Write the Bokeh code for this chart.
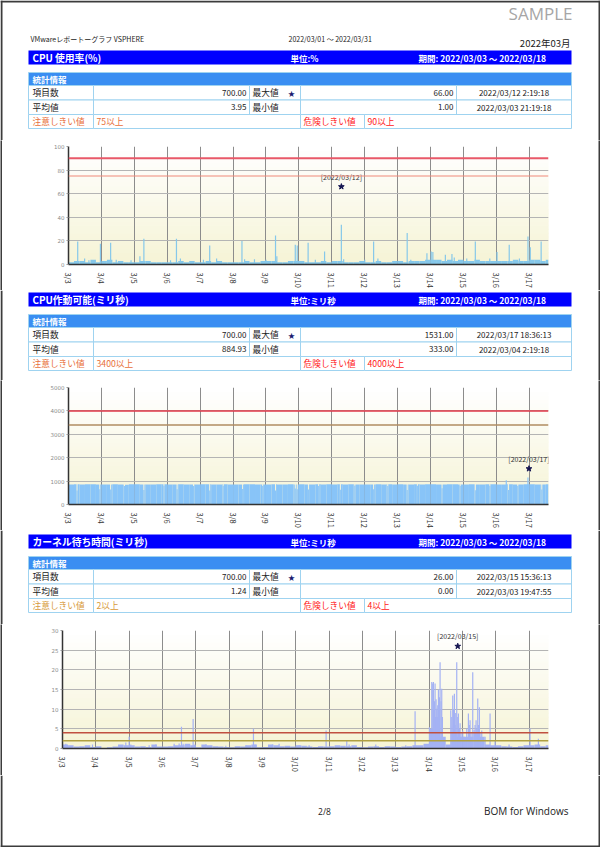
import math
import numpy as np
from bokeh.plotting import figure
from bokeh.layouts import column, row
from bokeh.models import Range1d, FixedTicker, Span
from bokeh.core.properties import value
from bokeh.embed import file_html
from bokeh.resources import INLINE

JP = "Noto Sans CJK JP"

# ---------------- data ----------------
watermark = "SAMPLE"
report_title = "VMwareレポートーグラフ  VSPHERE"
report_range = "2022/03/01  ～  2022/03/31"
report_month = "2022年03月"
period_text = "期間: 2022/03/03 ～ 2022/03/18"
page_no = "2/8"
product = "BOM for Windows"

day_labels = ["3/3", "3/4", "3/5", "3/6", "3/7", "3/8", "3/9", "3/10",
              "3/11", "3/12", "3/13", "3/14", "3/15", "3/16", "3/17"]
n_samples = 700
sample_hours = 0.5
block_hours = 4

section_titles = ["CPU 使用率(%)", "CPU作動可能(ミリ秒)", "カーネル待ち時間(ミリ秒)"]
section_units = ["単位:%", "単位:ミリ秒", "単位:ミリ秒"]
item_counts = [700.00, 700.00, 700.00]
max_values = [66.00, 1531.00, 26.00]
max_times = ["2022/03/12 2:19:18", "2022/03/17 18:36:13", "2022/03/15 15:36:13"]
max_dates = ["[2022/03/12]", "[2022/03/17]", "[2022/03/15]"]
avg_values = [3.95, 884.93, 1.24]
min_values = [1.00, 333.00, 0.00]
min_times = ["2022/03/03 21:19:18", "2022/03/04 2:19:18", "2022/03/03 19:47:55"]
warn_levels = [75, 3400, 2]
danger_levels = [90, 4000, 4]
max_marker_day = [8.29, 13.99, 11.86]
y_max = [100, 5000, 30]
y_step = [20, 1000, 5]

# CPU usage (%) : 4-hour baseline + spikes
cpu_base = [2, 3, 3, 2, 4, 2,  3, 4, 2, 3, 2, 2,  2, 3, 3, 2, 2, 2,
            2, 2, 3, 2, 3, 2,  2, 3, 2, 3, 2, 2,  2, 2, 3, 2, 2, 3,
            3, 3, 2, 2, 3, 3,  3, 2, 2, 2, 3, 2,  3, 3, 2, 2, 2, 3,
            2, 2, 3, 2, 2, 3,  3, 2, 3, 3, 3, 4,  4, 4, 3, 4, 3, 4,
            3, 3, 4, 3, 3, 3,  3, 3, 3, 4, 3, 3,  4, 4, 3, 4]
cpu_spike_day = [0.28, 0.49, 0.62, 0.97, 1.28, 1.45, 1.9, 2.17, 2.29, 2.45,
                 3.1, 3.28, 3.4, 4.1, 4.29, 4.5, 5.27, 5.35, 5.65, 6.0,
                 6.29, 6.33, 6.89, 6.95, 7.28, 7.5, 7.78, 8.29, 8.36, 9.0,
                 9.27, 9.4, 10.29, 10.4, 10.89, 11.02, 11.07, 11.45, 11.65, 11.72,
                 12.1, 12.36, 12.8, 13.02, 13.39, 13.7, 13.96, 14.03, 14.36]
cpu_spike_val = [19.5, 5, 3.5, 17.5, 18.4, 4, 3.5, 7, 21.8, 3,
                 3.5, 21.8, 5, 4, 16, 5, 20, 4.5, 4.5, 4,
                 24.5, 7, 16.7, 16, 18.4, 4, 11, 33.6, 4.5, 4,
                 19.5, 5, 26.8, 4, 9.6, 11, 10.5, 8.2, 9, 6,
                 5, 19.5, 5, 10.5, 16.7, 5, 23.7, 14.7, 19.5]

# CPU ready (ms) : 4-hour baseline + dips + peaks
rdy_base = [860, 870, 850, 865, 870, 855,  860, 850, 870, 860, 845, 865,
            870, 855, 860, 850, 865, 870,  850, 860, 870, 855, 860, 850,
            865, 870, 850, 860, 870, 855,  860, 850, 865, 870, 850, 860,
            855, 870, 860, 850, 865, 860,  870, 850, 860, 865, 855, 870,
            860, 865, 850, 870, 860, 855,  850, 860, 870, 855, 865, 860,
            865, 855, 860, 870, 850, 865,  870, 860, 855, 865, 870, 860,
            855, 870, 860, 850, 865, 870,  860, 855, 870, 860, 850, 865,
            870, 860, 855, 865]
rdy_dip_day = [0.26, 0.95, 1.28, 1.7, 2.29, 2.9, 3.3, 3.8, 4.29, 4.7,
               5.29, 5.9, 6.29, 6.89, 6.95, 7.29, 7.6, 8.26, 8.7, 9.27,
               9.7, 10.29, 10.6, 11.35, 11.9, 12.36, 12.8, 13.37, 13.65, 14.38]
rdy_dip_val = [600, 650, 640, 790, 620, 800, 650, 790, 600, 800,
               660, 790, 600, 680, 650, 640, 790, 630, 800, 650,
               790, 620, 800, 690, 790, 610, 800, 620, 790, 640]
rdy_peak_day = [13.3, 13.96]
rdy_peak_val = [1040, 1150]

# Kernel latency (ms) : 4-hour baseline + spikes
krn_base = [1, 0.8, 0.5, 0.6, 0.8, 0.4,  0.6, 0, 0.3, 0.5, 1, 0.8,
            0.8, 0.5, 0.6, 0.4, 1, 0.5,  0.5, 0.6, 0.8, 0.8, 1.2, 0.8,
            0.3, 1, 0.8, 0.6, 0.5, 0.4,  0.3, 0.6, 0.5, 0.8, 1, 0.3,
            0.4, 1, 0.8, 0.6, 0.7, 0.5,  0.8, 0.7, 0.5, 0.4, 0.6, 0.5,
            0.6, 0.8, 0.7, 0.6, 0.8, 0.4,  0.3, 0.5, 0.6, 0.4, 0.6, 0.5,
            0.4, 0.5, 0.6, 0.8, 0.8, 1.2,  5, 8, 3, 1, 4, 3,
            3, 3, 4, 3, 1, 0.8,  0.8, 0.6, 0.5, 0.4, 0.6, 0.8,
            0.8, 1, 0.6, 0.8]
krn_spike_day = [0.1, 0.9, 1.9, 2.0, 2.05, 2.6, 2.8, 3.35, 3.5, 3.57, 3.62, 3.92, 3.97,
                 4.3, 4.9, 5.5, 5.73, 5.78, 6.3, 6.5, 7.1, 7.4, 7.91, 8.53, 8.6, 9.4,
                 10.3, 10.58, 11.01, 11.05, 11.08, 11.11, 11.13, 11.16, 11.18, 11.21,
                 11.23, 11.26, 11.28, 11.31, 11.33, 11.36, 11.38, 11.40, 11.43, 11.65,
                 11.68, 11.71, 11.73, 11.76, 11.78, 11.80, 11.83, 11.86, 11.88, 11.91,
                 11.93, 11.96, 12.01, 12.05, 12.08, 12.13, 12.18, 12.21, 12.23, 12.26,
                 12.31, 12.35, 12.38, 12.41, 12.43, 12.46, 12.48, 12.51, 12.53, 12.58,
                 12.68, 12.83, 12.98, 13.4, 14.03, 14.28]
krn_spike_val = [1.2, 1, 1.5, 3.0, 1, 0.8, 1, 1.2, 1.3, 5.5, 1.2, 7.5, 1,
                 1, 0.7, 0.8, 5, 1, 1, 1.2, 0.8, 0.8, 4.6, 2, 1, 1,
                 0.8, 9.5, 5.4, 3, 16.9, 16.5, 16.9, 12, 16.5, 12.5,
                 10.1, 11, 15, 13, 21.9, 12, 15.2, 8, 2.9, 9.7,
                 8, 13.5, 10, 13.9, 6, 9, 21.9, 8, 8.9, 5,
                 6.4, 4, 4.6, 3, 2.7, 5, 8.9, 6, 7.2, 4,
                 19.4, 4.7, 6, 7.2, 5, 12.7, 6, 10.5, 4, 4.6,
                 3, 8.9, 2, 1, 5, 2.5]

# ---------------- styles ----------------
warn_text_colors = ["#e8703a", "#e8703a", "#d89a3a"]
danger_text_color = "#ff2020"
warn_line = [("#f08878", 1), ("#b08c60", 1.5), ("#b0a040", 1.5)]
danger_line = [("#e85868", 2), ("#e03848", 1.5), ("#c05040", 1.5)]
bar_colors = ["#86c8ea", "#88c4f8", "#a4b2f4"]
FRAME = "#3c3c3c"
PAGE_W = 600
EDGE = 2

x_end = n_samples * sample_hours / 24.0
block_d = block_hours / 24.0
sample_d = sample_hours / 24.0


def no_align(p):
    if "frame_align" in p.properties():
        p.frame_align = False


def band(y_top, y_bot):
    p = figure(width=PAGE_W, height=int(round(y_bot - y_top)),
               x_range=Range1d(0, PAGE_W), y_range=Range1d(y_bot, y_top),
               output_backend="svg", toolbar_location=None,
               x_axis_location=None, y_axis_location=None,
               min_border=0, min_border_left=0, min_border_right=0,
               min_border_top=0, min_border_bottom=0)
    p.grid.visible = False
    p.outline_line_color = None
    p.background_fill_color = "white"
    p.border_fill_color = "white"
    p.quad(left=[0, PAGE_W - EDGE], right=[EDGE, PAGE_W], top=y_top,
           bottom=y_bot, fill_color=FRAME, line_color=None)
    no_align(p)
    return p


def strip(height):
    p = figure(width=EDGE, height=height, output_backend="svg",
               toolbar_location=None, x_axis_location=None,
               y_axis_location=None, min_border=0, min_border_left=0,
               min_border_right=0, min_border_top=0, min_border_bottom=0,
               x_range=Range1d(0, 1), y_range=Range1d(0, 1))
    p.grid.visible = False
    p.outline_line_color = None
    p.background_fill_color = FRAME
    p.border_fill_color = FRAME
    no_align(p)
    return p


def txt(p, x, y, t, size, color="#222222", align="left", bold=False, font=JP):
    p.text(x=[x], y=[y], text=[t], text_font=value(font),
           text_font_size=value(f"{size}px"), text_color=color,
           text_align=align, text_baseline="middle",
           text_font_style="bold" if bold else "normal")


def section(p, o, k):
    p.quad(left=[28], right=[571], top=[50 + o], bottom=[64 + o],
           fill_color="#0000ff", line_color=None)
    txt(p, 32, 57 + o, section_titles[k], 9.8, "white", bold=True)
    txt(p, 290, 57 + o, section_units[k], 8.5, "white", bold=True)
    txt(p, 418, 57 + o, period_text, 8.5, "white", bold=True)
    p.quad(left=[28], right=[571], top=[72 + o], bottom=[85 + o],
           fill_color="#3a8ef2", line_color="#9fd3f0")
    txt(p, 32, 78.5 + o, "統計情報", 8.5, "white", bold=True)
    rows = [85, 99.5, 114, 128]
    cols12 = [28, 93, 249, 300, 456, 571]
    cols3 = [28, 93, 300, 364, 571]
    L, R, T, B = [], [], [], []
    for r in range(2):
        for c in range(len(cols12) - 1):
            L.append(cols12[c]); R.append(cols12[c + 1])
            T.append(rows[r] + o); B.append(rows[r + 1] + o)
    for c in range(len(cols3) - 1):
        L.append(cols3[c]); R.append(cols3[c + 1])
        T.append(rows[2] + o); B.append(rows[3] + o)
    p.quad(left=L, right=R, top=T, bottom=B, fill_color="white",
           line_color="#9fd3f0", line_width=1)
    y1 = (rows[0] + rows[1]) / 2 + o
    y2 = (rows[1] + rows[2]) / 2 + o
    y3 = (rows[2] + rows[3]) / 2 + o
    J = 8.7
    txt(p, 32, y1, "項目数", J)
    txt(p, 246, y1, f"{item_counts[k]:.2f}", 8, align="right")
    txt(p, 252, y1, "最大値", J)
    txt(p, 291, y1, "★", 7, "#1a1a70", align="center")
    txt(p, 453, y1, f"{max_values[k]:.2f}", 8, align="right")
    txt(p, 513.5, y1, max_times[k], 8, align="center")
    txt(p, 32, y2, "平均値", J)
    txt(p, 246, y2, f"{avg_values[k]:.2f}", 8, align="right")
    txt(p, 252, y2, "最小値", J)
    txt(p, 453, y2, f"{min_values[k]:.2f}", 8, align="right")
    txt(p, 513.5, y2, min_times[k], 8, align="center")
    txt(p, 32, y3, "注意しきい値", J, warn_text_colors[k])
    txt(p, 96, y3, f"{warn_levels[k]}以上", J, warn_text_colors[k])
    txt(p, 303, y3, "危険しきい値", J, danger_text_color)
    txt(p, 367, y3, f"{danger_levels[k]}以上", J, danger_text_color)


def chart(k, height, top_b, bot_b, left_b):
    ymax = y_max[k]
    p = figure(width=PAGE_W - 2 * EDGE, height=height,
               x_range=Range1d(0, x_end), y_range=Range1d(0, ymax),
               output_backend="svg", toolbar_location=None,
               min_border_left=left_b - EDGE, min_border_right=52 - EDGE,
               min_border_top=top_b, min_border_bottom=bot_b)
    no_align(p)
    p.outline_line_color = None
    p.background_fill_color = "white"
    p.border_fill_color = "white"
    nb = 30
    edges = np.linspace(0, ymax, nb + 1)
    cols = []
    for i in range(nb):
        f = i / (nb - 1)
        r = int(246 + (255 - 246) * f)
        g = int(244 + (255 - 244) * f)
        b = int(214 + (255 - 214) * f)
        cols.append(f"#{r:02x}{g:02x}{b:02x}")
    p.quad(left=0, right=x_end, bottom=edges[:-1], top=edges[1:],
           fill_color=cols, line_color=cols, line_width=1, level="image")
    ticks = list(range(len(day_labels)))
    p.xaxis.ticker = FixedTicker(ticks=ticks)
    p.xaxis.major_label_overrides = {i: lab for i, lab in enumerate(day_labels)}
    p.xaxis.major_label_orientation = -math.pi / 2
    p.xaxis.major_tick_line_color = None
    p.xaxis.minor_tick_line_color = None
    p.xaxis.axis_line_color = "#333333"
    p.xaxis.axis_line_width = 1.5
    p.xaxis.major_label_text_font = JP
    p.xaxis.major_label_text_font_size = "7.5px"
    p.xaxis.major_label_text_color = "#333333"
    p.xaxis.major_label_standoff = 2
    p.yaxis.ticker = FixedTicker(ticks=list(range(0, ymax + 1, y_step[k])))
    p.yaxis.major_label_text_font = "DejaVu Sans"
    p.yaxis.major_label_text_font_size = "5.5px"
    p.yaxis.major_label_text_color = "#8a8a8a"
    p.yaxis.major_label_standoff = 2
    p.yaxis.major_tick_out = 2
    p.yaxis.major_tick_in = 0
    p.yaxis.major_tick_line_color = "#999999"
    p.yaxis.minor_tick_line_color = None
    p.yaxis.axis_line_color = "#333333"
    p.yaxis.axis_line_width = 1.5
    p.xgrid.ticker = FixedTicker(ticks=ticks)
    p.xgrid.grid_line_color = "#8c8c8c"
    p.ygrid.grid_line_color = "#b4b4b4"
    wc, ww = warn_line[k]
    dc, dw = danger_line[k]
    p.add_layout(Span(location=warn_levels[k], dimension="width",
                      line_color=wc, line_width=ww))
    p.add_layout(Span(location=danger_levels[k], dimension="width",
                      line_color=dc, line_width=dw))
    return p


def framed(p, height):
    r = row(strip(height), p, strip(height), spacing=0)
    return r


def base_quads(p, base, color, cut_days=(), cut_w=0.0):
    L, R, T = [], [], []
    for i, v in enumerate(base):
        l = i * block_d
        r = min((i + 1) * block_d, x_end)
        cur = l
        for d in sorted(d for d in cut_days if l <= d < r):
            L.append(cur); R.append(d - cut_w / 2); T.append(v)
            cur = d + cut_w / 2
        L.append(cur); R.append(r); T.append(v)
    p.quad(left=L, right=R, bottom=0, top=T, fill_color=color, line_color=None)


def marker(p, k):
    p.scatter(x=[max_marker_day[k]], y=[max_values[k]], marker="star",
              size=6, color="#141450")
    p.text(x=[max_marker_day[k]], y=[max_values[k]], text=[max_dates[k]],
           text_font=value(JP), text_font_size=value("7px"),
           text_color="#333333", text_align="center", text_baseline="middle",
           y_offset=-10)


# ---------------- page ----------------
bandA = band(0, 140)
bandA.quad(left=[0], right=[PAGE_W], top=[0], bottom=[EDGE],
           fill_color=FRAME, line_color=None)
txt(bandA, 572, 13, watermark, 17, "#a6a6a6", align="right", font="Open Sans")
txt(bandA, 30, 38, report_title, 7, "#222222")
txt(bandA, 288, 38, report_range, 7, "#222222")
txt(bandA, 570, 42, report_month, 9.5, "#222222", align="right")
section(bandA, 0, 0)

c1 = chart(0, 150, 6, 26, 68)
base_quads(c1, cpu_base, bar_colors[0])
c1.segment(x0=cpu_spike_day, y0=0, x1=cpu_spike_day, y1=cpu_spike_val,
           line_color=bar_colors[0], line_width=1.2)
marker(c1, 0)

bandB = band(290, 380)
section(bandB, 242, 1)

c2 = chart(1, 150, 7, 25, 68)
dip_w = sample_d * 1.5
base_quads(c2, rdy_base, bar_colors[1], rdy_dip_day, dip_w)
c2.quad(left=[d - dip_w / 2 for d in rdy_dip_day],
        right=[d + dip_w / 2 for d in rdy_dip_day],
        bottom=0, top=rdy_dip_val, fill_color=bar_colors[1], line_color=None)
c2.segment(x0=rdy_peak_day, y0=0, x1=rdy_peak_day, y1=rdy_peak_val,
           line_color=bar_colors[1], line_width=1.2)
marker(c2, 1)

bandC = band(530, 624)
section(bandC, 484, 2)

c3 = chart(2, 151, 6, 27, 62)
base_quads(c3, krn_base, bar_colors[2])
c3.segment(x0=krn_spike_day, y0=0, x1=krn_spike_day, y1=krn_spike_val,
           line_color=bar_colors[2], line_width=1.2)
marker(c3, 2)

bandD = band(775, 847)
bandD.quad(left=[0], right=[PAGE_W], top=[847 - EDGE], bottom=[847],
           fill_color=FRAME, line_color=None)
txt(bandD, 324, 811, page_no, 8.5, "#222222", align="center", font="Open Sans")
txt(bandD, 568, 810, product, 10, "#222222", align="right", font="Open Sans")

page = column(bandA, framed(c1, 150), bandB, framed(c2, 150), bandC,
              framed(c3, 151), bandD, spacing=0)
open("out.html", "w").write(file_html(page, INLINE))
